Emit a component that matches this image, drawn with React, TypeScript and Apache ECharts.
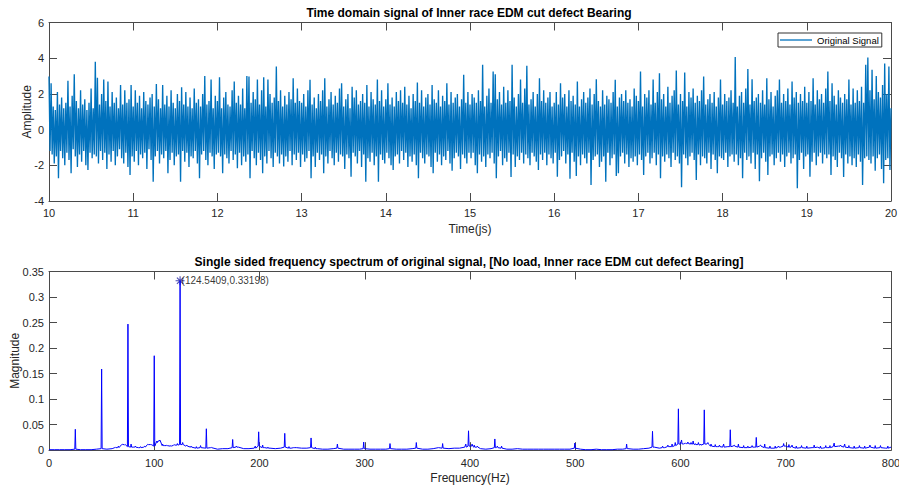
import React, { useEffect, useRef } from "react";
import * as echarts from "echarts";

// ---- Time-domain signal (one array per second, 80 samples each, step 0.0125 s) ----
const sig10 = [2.97,-1.2,2.6,-1.4,1.3,-1.9,1.1,-1.5,2.1,-2.73, 1.4,-1.2,1.8,-1.6,1.2,-2.0,1.5,-1.3,2.73,-1.7, 1.3,-2.45,1.9,-1.1,3.1,-1.5,1.6,-2.1,1.2,-1.4, 2.2,-1.8,1.4,-1.2,1.7,-2.0,1.1,-2.26,1.5,-1.3, 2.3,-1.6,1.2,-1.4,3.8,-1.5,2.9,-1.9,1.4,-1.2, 2.0,-1.7,2.8,-1.3,1.6,-2.2,2.7,-1.4,1.3,-1.8, 2.1,-1.2,1.5,-2.0,1.8,-1.5,1.2,-1.1,2.5,-1.6, 1.4,-1.9,2.2,-1.3,1.5,-2.1,1.7,-2.54,2.5,-1.5];
const sig11 = [1.3,-1.8,2.2,-1.2,1.5,-2.0,1.9,-1.4,1.2,-1.6, 2.1,-1.3,1.6,-2.2,1.4,-1.1,1.8,-1.7,2.0,-2.92, 1.3,-1.5,2.56,-1.2,1.7,-1.9,1.2,-1.4,2.5,-1.6, 1.4,-1.2,1.9,-2.45,1.3,-1.7,2.2,-1.3,1.5,-2.0, 1.2,-1.5,2.0,-1.4,1.6,-2.92,2.37,-1.2,1.4,-1.8, 2.1,-1.3,1.3,-2.1,1.8,-1.5,1.2,-1.6,2.3,-1.2, 1.5,-1.9,1.7,-2.73,1.3,-1.4,2.0,-1.2,3.0,-1.7, 1.4,-2.0,1.6,-1.3,2.8,-1.5,1.2,-2.2,1.9,-1.4];
const sig12 = [1.6,-1.3,2.93,-1.5,1.2,-2.45,1.8,-1.4,2.1,-1.6, 1.4,-1.9,1.3,-1.2,2.2,-1.7,2.7,-1.4,1.5,-2.17, 1.9,-1.3,1.4,-2.0,2.3,-1.5,1.2,-1.8,3.0,-1.4, 2.97,-2.73,1.5,-1.2,2.1,-1.6,1.7,-2.0,2.8,-1.3, 1.4,-1.7,2.2,-2.45,2.93,-1.5,1.3,-1.9,2.8,-1.2, 2.0,-1.6,1.5,-2.1,1.8,-1.3,3.53,-1.5,1.6,-1.9, 2.2,-1.4,1.3,-2.07,1.9,-1.5,1.4,-1.8,2.1,-1.2, 1.7,-2.0,2.88,-1.4,1.5,-1.7,2.3,-1.3,1.6,-2.1];
const sig13 = [1.5,-1.4,2.0,-1.8,1.3,-1.6,2.2,-1.2,2.79,-2.73, 1.4,-1.5,1.8,-2.1,1.2,-1.3,2.0,-1.7,1.6,-1.4, 2.2,-2.45,2.88,-1.5,1.3,-1.9,1.7,-1.2,2.1,-1.6, 1.4,-2.0,1.9,-1.3,1.5,-1.8,2.3,-1.4,2.6,-1.5, 1.3,-2.2,1.7,-1.4,2.0,-1.6,1.2,-2.64,2.4,-1.3, 1.8,-1.5,2.2,-1.9,1.4,-1.2,1.6,-2.1,2.0,-1.4, 1.5,-2.92,2.5,-1.6,1.3,-1.8,2.1,-1.3,1.7,-2.0, 1.4,-1.5,2.8,-2.92,1.6,-1.4,2.2,-1.7,1.3,-1.9];
const sig14 = [1.7,-1.3,2.6,-1.6,1.4,-2.0,1.8,-2.26,1.3,-1.5, 2.1,-1.4,1.6,-1.9,2.2,-1.2,1.5,-1.7,2.4,-1.3, 1.4,-2.1,1.9,-1.5,1.2,-1.8,2.0,-1.4,1.6,-2.0, 2.64,-2.73,1.5,-1.3,2.2,-1.6,1.3,-1.9,1.8,-1.4, 2.0,-1.5,1.4,-2.1,2.5,-2.45,1.7,-1.3,1.5,-1.8, 2.2,-1.4,1.3,-2.0,1.9,-1.5,1.6,-1.7,2.6,-1.2, 1.4,-1.9,2.1,-2.3,1.5,-1.6,1.8,-1.3,2.0,-1.5, 1.3,-2.2,1.7,-1.4,3.07,-1.6,1.5,-1.9,2.1,-1.3];
const sig15 = [1.4,-1.6,2.0,-1.3,1.8,-2.0,1.5,-2.45,2.2,-1.4, 1.6,-1.8,3.63,-1.5,1.3,-2.1,1.9,-1.4,2.3,-1.6, 1.5,-1.3,3.25,-1.9,3.1,-2.73,1.7,-1.5,2.1,-1.2, 1.4,-2.0,2.4,-1.6,1.5,-1.8,2.2,-1.3,1.6,-2.65, 3.63,-1.4,1.8,-2.1,1.3,-1.5,2.0,-1.7,2.8,-1.3, 1.5,-1.9,2.3,-1.4,3.57,-1.6,1.4,-2.0,1.7,-1.3, 2.1,-1.5,1.3,-1.8,2.0,-2.26,2.88,-1.4,1.6,-1.7, 2.2,-1.3,1.5,-2.0,1.8,-1.4,2.1,-1.6,1.3,-1.9];
const sig16 = [1.5,-1.3,2.1,-2.64,1.4,-1.7,2.6,-1.5,1.8,-1.2, 2.0,-1.9,1.3,-1.4,2.2,-2.75,1.6,-1.3,1.9,-1.8, 1.4,-2.6,2.7,-1.5,1.3,-2.0,1.7,-1.4,2.1,-1.6, 1.5,-1.9,1.8,-1.3,2.3,-3.1,1.4,-1.7,2.0,-1.5, 2.82,-1.4,1.6,-2.1,1.3,-1.8,2.2,-1.5,1.4,-2.92, 1.9,-1.3,1.7,-2.0,1.5,-1.6,2.1,-1.4,2.79,-2.6, 1.3,-2.45,1.8,-1.5,2.0,-1.3,1.6,-1.9,2.2,-1.4, 1.5,-2.1,1.7,-1.6,1.3,-1.8,2.3,-1.5,1.9,-2.0];
const sig17 = [1.6,-1.4,3.25,-1.7,1.3,-2.54,2.0,-1.5,1.8,-1.3, 2.2,-1.9,1.4,-1.6,2.8,-1.3,1.5,-2.0,2.1,-1.4, 3.16,-2.73,1.7,-1.5,2.0,-1.8,1.3,-1.4,2.4,-1.6, 1.5,-2.1,1.9,-1.3,2.2,-1.7,3.31,-1.5,1.4,-1.9, 2.0,-3.23,1.6,-1.4,3.2,-1.6,1.3,-2.0,2.1,-1.5, 1.8,-1.3,2.3,-1.7,1.5,-2.82,1.9,-1.4,1.6,-2.0, 2.2,-1.5,2.97,-1.6,1.4,-1.9,1.7,-1.3,2.0,-2.2, 1.5,-1.4,2.1,-1.7,1.3,-2.45,1.8,-1.5,2.8,-1.6];
const sig18 = [1.4,-1.7,2.0,-1.3,1.6,-2.1,1.8,-1.5,2.2,-1.4, 1.5,-1.8,4.06,-1.4,1.3,-2.0,1.9,-1.6,2.1,-2.73, 1.5,-1.3,2.3,-1.7,3.4,-1.5,1.4,-1.9,2.82,-1.3, 1.6,-2.2,1.8,-1.4,2.0,-2.9,1.5,-1.6,2.2,-1.3, 1.4,-1.8,2.88,-2.54,1.7,-1.5,2.1,-1.4,1.3,-2.0, 1.9,-1.6,2.2,-1.3,2.8,-1.8,1.5,-1.4,2.0,-2.1, 1.6,-1.5,2.3,-1.3,1.4,-1.9,2.7,-1.6,1.8,-1.4, 2.1,-3.29,1.5,-1.7,2.0,-1.3,1.6,-2.2,2.4,-1.5];
const sig19 = [1.5,-1.4,2.1,-2.64,1.6,-1.8,2.88,-1.3,1.4,-2.0, 2.2,-1.5,1.7,-1.3,2.0,-1.9,1.5,-1.4,2.3,-1.6, 3.25,-1.4,1.6,-2.54,2.6,-1.5,1.9,-1.7,1.4,-2.1, 2.2,-1.3,1.8,-1.6,1.5,-2.65,2.0,-1.4,1.7,-1.9, 2.8,-1.5,1.4,-2.0,2.3,-1.6,1.5,-2.1,2.2,-1.4, 1.6,-1.8,2.4,-3.1,1.5,-1.6,3.63,-1.5,4.04,-1.7, 2.2,-1.9,3.35,-1.5,1.7,-2.3,3.0,-1.6,2.1,-1.4, 1.8,-2.2,2.5,-3.0,3.7,-1.7,2.0,-1.6,3.53,-2.26, 1.2];
const signalSeconds = [sig10, sig11, sig12, sig13, sig14, sig15, sig16, sig17, sig18, sig19];
const timeStart = 10;
const sampleStep = 0.0125;

// ---- Single-sided spectrum ----
// noise floor every 5 Hz from 0 to 800 Hz
const floorStep = 5;
const floorMag = [
  0.001,0.001,0.001,0.001,0.001,0.002,0.001,0.001,0.001,0.002,
  0.003,0.002,0.003,0.005,0.011,0.007,0.006,0.005,0.006,0.011,
  0.008,0.018,0.009,0.008,0.010,0.011,0.008,0.006,0.004,0.005,
  0.004,0.005,0.002,0.003,0.003,0.005,0.006,0.003,0.003,0.004,
  0.008,0.005,0.004,0.003,0.004,0.006,0.004,0.005,0.004,0.004,
  0.005,0.003,0.002,0.002,0.003,0.004,0.002,0.002,0.002,0.002,
  0.003,0.002,0.002,0.002,0.002,0.003,0.002,0.002,0.002,0.003,
  0.004,0.002,0.002,0.003,0.005,0.004,0.003,0.004,0.004,0.006,
  0.008,0.006,0.003,0.002,0.003,0.005,0.004,0.002,0.002,0.003,
  0.002,0.002,0.002,0.002,0.002,0.002,0.002,0.002,0.002,0.002,
  0.004,0.002,0.001,0.001,0.002,0.001,0.001,0.001,0.002,0.002,
  0.003,0.002,0.002,0.003,0.004,0.006,0.004,0.005,0.007,0.009,
  0.012,0.013,0.012,0.011,0.010,0.012,0.008,0.007,0.006,0.007,
  0.008,0.006,0.005,0.005,0.006,0.008,0.005,0.004,0.004,0.006,
  0.008,0.006,0.004,0.005,0.004,0.005,0.006,0.004,0.005,0.007,
  0.008,0.006,0.005,0.004,0.005,0.004,0.006,0.004,0.005,0.004,
  0.006
];
// harmonic peaks and small hair-like peaks
const peakFreq = [
  25, 50, 63, 66, 69.5, 72, 75, 78, 82, 87, 91, 94, 97, 100, 103, 105.3, 108, 112, 116, 119, 122,
  124.5409, 127, 131, 135, 140, 144, 149.5, 154, 174.5, 178, 196, 199.2, 203, 208, 224, 228, 233,
  249, 253, 274, 299, 324, 349, 374, 396, 398.6, 402, 404, 407, 423.6, 426, 430, 499.6, 548.8,
  573.4, 583, 588, 592, 595, 598, 601, 603, 605, 607, 610, 612, 614, 617, 619, 622.6, 626, 629,
  633, 637, 641, 647.3, 651, 655, 660, 664, 668, 672, 676, 680, 685, 690, 693, 698, 703, 706,
  710, 715, 720, 727, 733, 738, 742, 746, 752, 756, 760, 765, 770, 775, 780, 785, 790, 797
];
const peakMag = [
  0.041, 0.159, 0.006, 0.008, 0.012, 0.010, 0.247, 0.012, 0.008, 0.007, 0.008, 0.012, 0.010, 0.185, 0.015, 0.020, 0.012, 0.010, 0.009, 0.011, 0.013,
  0.33198, 0.015, 0.010, 0.008, 0.007, 0.009, 0.042, 0.006, 0.021, 0.008, 0.008, 0.036, 0.010, 0.006, 0.033, 0.007, 0.005,
  0.024, 0.006, 0.012, 0.016, 0.013, 0.015, 0.013, 0.012, 0.038, 0.012, 0.010, 0.008, 0.022, 0.008, 0.008, 0.014, 0.012,
  0.037, 0.008, 0.010, 0.012, 0.015, 0.081, 0.020, 0.012, 0.014, 0.016, 0.015, 0.018, 0.013, 0.015, 0.012, 0.079, 0.015, 0.012,
  0.011, 0.010, 0.012, 0.040, 0.010, 0.012, 0.009, 0.008, 0.009, 0.025, 0.010, 0.012, 0.008, 0.008, 0.008, 0.013, 0.011, 0.010,
  0.008, 0.009, 0.008, 0.010, 0.008, 0.009, 0.009, 0.014, 0.010, 0.012, 0.009, 0.008, 0.009, 0.008, 0.010, 0.009, 0.009, 0.008
];
const tipFreq = 124.5409;
const tipMag = 0.33198;

const FONT = "'Liberation Sans', Arial, Helvetica, sans-serif";
const AXIS_COLOR = "#4a4a4a";
const LABEL_COLOR = "#262626";

export default function App() {
  const ref = useRef<HTMLDivElement>(null);

  useEffect(() => {
    document.body.style.margin = "0";
    if (!ref.current) return;
    const chart = echarts.init(ref.current, null, { renderer: "svg" });

    const signalValues = signalSeconds.flat();
    const signalData = signalValues.map((v, i) => [timeStart + i * sampleStep, v]);

    const specPts: [number, number][] = floorMag.map((m, i) => [i * floorStep, m]);
    peakFreq.forEach((f, k) => {
      const base = floorMag[Math.round(f / floorStep)];
      specPts.push([f - 0.5, base], [f, peakMag[k]], [f + 0.5, base]);
    });
    specPts.sort((a, b) => a[0] - b[0]);

    const tick = { show: true, inside: true, length: 8, lineStyle: { color: AXIS_COLOR, width: 1 } };
    const line = { show: true, onZero: false, lineStyle: { color: AXIS_COLOR, width: 1 } };
    const lbl = { color: LABEL_COLOR, fontSize: 11, fontFamily: FONT };
    const nameStyle = { color: LABEL_COLOR, fontSize: 12, fontFamily: FONT };

    const asterisk =
      "path://M-0.6,-5H0.6V5H-0.6Z M-5,-0.6H5V0.6H-5Z M-3.96,-3.11L-3.11,-3.96L3.96,3.11L3.11,3.96Z M3.11,-3.96L3.96,-3.11L-3.11,3.96L-3.96,3.11Z";

    const option: any = {
      animation: false,
      textStyle: { fontFamily: FONT },
      title: [
        {
          text: "Time domain signal of Inner race EDM cut defect Bearing",
          left: 469,
          top: 7,
          textAlign: "center",
          padding: 0,
          textStyle: { fontSize: 12, fontWeight: "bold", color: "#000", fontFamily: FONT },
        },
        {
          text: "Single sided frequency spectrum of original signal, [No load, Inner race EDM cut defect Bearing]",
          left: 469,
          top: 256,
          textAlign: "center",
          padding: 0,
          textStyle: { fontSize: 12, fontWeight: "bold", color: "#000", fontFamily: FONT },
        },
      ],
      legend: {
        data: [{ name: "Original Signal", icon: "rect" }],
        left: 778,
        top: 33,
        padding: [2, 3, 2, 2],
        itemWidth: 32,
        itemHeight: 1.3,
        borderColor: "#333",
        borderWidth: 1,
        backgroundColor: "#fff",
        textStyle: { fontSize: 9.5, color: "#000", fontFamily: FONT },
      },
      grid: [
        { left: 49, right: 8, top: 22.5, height: 178.5, outerBoundsMode: "none", containLabel: false },
        { left: 49, right: 8, top: 271.5, height: 178.7, outerBoundsMode: "none", containLabel: false },
      ],
      xAxis: [
        {
          gridIndex: 0, type: "value", position: "bottom", min: 10, max: 20, interval: 1,
          axisLine: line, axisTick: tick, splitLine: { show: false },
          axisLabel: { ...lbl, margin: 6 },
          name: "Time(js)", nameLocation: "middle", nameGap: 22, nameTextStyle: nameStyle, nameMoveOverlap: false,
        },
        {
          gridIndex: 0, type: "value", position: "top", min: 10, max: 20, interval: 1,
          axisLine: line, axisTick: tick, splitLine: { show: false }, axisLabel: { show: false },
        },
        {
          gridIndex: 1, type: "value", position: "bottom", min: 0, max: 800, interval: 100,
          axisLine: line, axisTick: tick, splitLine: { show: false },
          axisLabel: { ...lbl, margin: 7 },
          name: "Frequency(Hz)", nameLocation: "middle", nameGap: 22, nameTextStyle: nameStyle, nameMoveOverlap: false,
        },
        {
          gridIndex: 1, type: "value", position: "top", min: 0, max: 800, interval: 100,
          axisLine: line, axisTick: tick, splitLine: { show: false }, axisLabel: { show: false },
        },
      ],
      yAxis: [
        {
          gridIndex: 0, type: "value", position: "left", min: -4, max: 6, interval: 2,
          axisLine: line, axisTick: tick, splitLine: { show: false },
          axisLabel: { ...lbl, margin: 5 },
          name: "Amplitude", nameLocation: "middle", nameGap: 16, nameTextStyle: nameStyle, nameMoveOverlap: false,
        },
        {
          gridIndex: 0, type: "value", position: "right", min: -4, max: 6, interval: 2,
          axisLine: line, axisTick: tick, splitLine: { show: false }, axisLabel: { show: false },
        },
        {
          gridIndex: 1, type: "value", position: "left", min: 0, max: 0.35, interval: 0.05,
          axisLine: line, axisTick: tick, splitLine: { show: false },
          axisLabel: { ...lbl, margin: 5 },
          name: "Magnitude", nameLocation: "middle", nameGap: 28, nameTextStyle: nameStyle, nameMoveOverlap: false,
        },
        {
          gridIndex: 1, type: "value", position: "right", min: 0, max: 0.35, interval: 0.05,
          axisLine: line, axisTick: tick, splitLine: { show: false }, axisLabel: { show: false },
        },
      ],
      series: [
        {
          name: "Original Signal",
          type: "line",
          xAxisIndex: 0,
          yAxisIndex: 0,
          data: signalData,
          symbol: "none",
          showSymbol: false,
          lineStyle: { color: "#0072BD", width: 1.35 },
          itemStyle: { color: "#0072BD" },
        },
        {
          name: "Spectrum",
          type: "line",
          xAxisIndex: 2,
          yAxisIndex: 2,
          data: specPts,
          symbol: "none",
          showSymbol: false,
          lineStyle: { color: "#0000ff", width: 1 },
          itemStyle: { color: "#0000ff" },
        },
        {
          name: "DataTip",
          type: "scatter",
          xAxisIndex: 2,
          yAxisIndex: 2,
          data: [[tipFreq, tipMag]],
          symbol: asterisk,
          symbolSize: 9,
          itemStyle: { color: "#1a1aa0" },
          label: {
            show: true,
            position: "right",
            distance: -3,
            formatter: "(" + tipFreq + "," + tipMag + ")",
            color: "#000",
            fontSize: 10,
            fontFamily: FONT,
          },
        },
      ],
    };

    chart.setOption(option);
    return () => chart.dispose();
  }, []);

  return <div ref={ref} style={{ width: 899, height: 490 }} />;
}
